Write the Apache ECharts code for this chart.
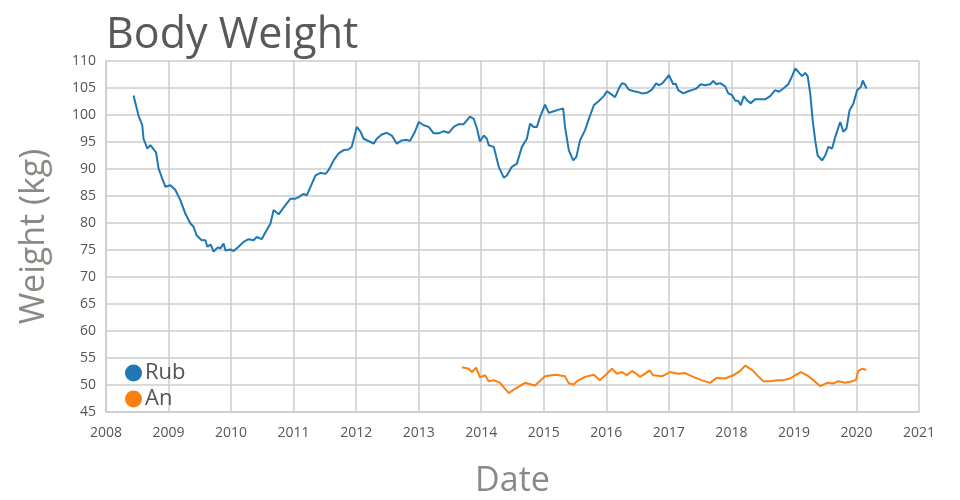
<!DOCTYPE html>
<html>
<head>
<meta charset="utf-8">
<script src="https://cdn.jsdelivr.net/npm/echarts@6/dist/echarts.min.js"></script>
<style>
  html, body { margin: 0; padding: 0; background: #fff; }
  #chart { width: 960px; height: 500px; }
</style>
</head>
<body>
<div id="chart"></div>
<script>
// 年份刻度
const yearTicks = [2008, 2009, 2010, 2011, 2012, 2013, 2014, 2015, 2016, 2017, 2018, 2019, 2020, 2021]

// Rub: [decimal year, kg]
const rubData = [
  [2008.44, 103.6], [2008.52, 99.9], [2008.58, 98.1], [2008.60, 95.6], [2008.66, 93.8],
  [2008.71, 94.4], [2008.80, 93.1], [2008.84, 90.1], [2008.90, 88.2], [2008.95, 86.7],
  [2009.03, 87.0], [2009.11, 86.1], [2009.19, 84.2], [2009.27, 81.7], [2009.35, 79.9],
  [2009.40, 79.3], [2009.45, 77.7], [2009.53, 76.8], [2009.59, 76.8], [2009.62, 75.6],
  [2009.64, 75.3], [2009.67, 76.0], [2009.69, 75.6], [2009.72, 74.7], [2009.75, 74.9],
  [2009.79, 75.5], [2009.83, 75.3], [2009.88, 76.2], [2009.91, 74.9], [2009.99, 75.1],
  [2010.04, 74.8], [2010.12, 75.6], [2010.20, 76.5], [2010.28, 77.0], [2010.36, 76.8],
  [2010.41, 77.4], [2010.49, 77.0], [2010.55, 78.3], [2010.63, 79.9], [2010.68, 82.4],
  [2010.76, 81.6], [2010.81, 82.4], [2010.87, 83.3], [2010.95, 84.5], [2011.03, 84.5],
  [2011.08, 84.8], [2011.16, 85.4], [2011.21, 85.1], [2011.27, 86.7], [2011.35, 88.8],
  [2011.43, 89.3], [2011.51, 89.1], [2011.56, 89.8], [2011.64, 91.6], [2011.72, 92.9],
  [2011.80, 93.5], [2011.88, 93.6], [2011.93, 94.1], [2012.01, 97.8], [2012.07, 96.9],
  [2012.12, 95.6], [2012.23, 95.0], [2012.28, 94.7], [2012.33, 95.6], [2012.41, 96.4],
  [2012.49, 96.7], [2012.57, 96.2], [2012.65, 94.7], [2012.73, 95.3], [2012.81, 95.4],
  [2012.86, 95.2], [2012.94, 96.9], [2013.00, 98.7], [2013.08, 98.1], [2013.16, 97.8],
  [2013.24, 96.6], [2013.32, 96.6], [2013.40, 97.0], [2013.48, 96.7], [2013.56, 97.8],
  [2013.64, 98.3], [2013.72, 98.3], [2013.77, 99.0], [2013.82, 99.7], [2013.88, 99.3],
  [2013.93, 97.6], [2013.98, 95.1], [2014.04, 96.2], [2014.09, 95.6], [2014.12, 94.4],
  [2014.20, 94.1], [2014.22, 94.4], [2014.28, 90.4], [2014.36, 88.4], [2014.41, 88.8],
  [2014.49, 90.4], [2014.57, 91.0], [2014.65, 94.1], [2014.73, 95.6], [2014.78, 98.4],
  [2014.84, 97.8], [2014.89, 97.8], [2014.94, 99.6], [2015.02, 101.9], [2015.08, 100.4],
  [2015.16, 100.7], [2015.24, 101.0], [2015.31, 101.2], [2015.34, 97.8], [2015.40, 93.5],
  [2015.43, 93.8], [2015.47, 91.6], [2015.52, 92.2], [2015.58, 95.3], [2015.66, 97.2],
  [2015.74, 99.9], [2015.80, 101.8], [2015.88, 102.6], [2015.96, 103.5], [2016.01, 104.4],
  [2016.06, 104.0], [2016.14, 103.3], [2016.20, 104.9], [2016.25, 105.9], [2016.30, 105.7],
  [2016.36, 104.7], [2016.44, 104.4], [2016.49, 104.3], [2016.57, 104.0], [2016.65, 104.1],
  [2016.73, 104.7], [2016.80, 105.9], [2016.84, 105.5], [2016.89, 105.8], [2016.95, 106.6],
  [2017.00, 107.4], [2017.07, 105.7], [2017.11, 105.8], [2017.15, 104.6], [2017.23, 104.0],
  [2017.31, 104.4], [2017.39, 104.7], [2017.44, 104.9], [2017.51, 105.7], [2017.58, 105.5],
  [2017.66, 105.7], [2017.71, 106.3], [2017.76, 105.7], [2017.82, 105.9], [2017.90, 105.3],
  [2017.95, 104.0], [2018.01, 103.7], [2018.06, 102.7], [2018.11, 102.6], [2018.15, 101.8],
  [2018.20, 103.5], [2018.25, 102.7], [2018.31, 102.2], [2018.38, 102.9], [2018.46, 102.9],
  [2018.54, 102.9], [2018.62, 103.5], [2018.70, 104.6], [2018.76, 104.3], [2018.83, 104.9],
  [2018.91, 105.7], [2018.97, 107.2], [2019.02, 108.6], [2019.07, 108.0], [2019.13, 107.2],
  [2019.18, 107.8], [2019.22, 107.2], [2019.26, 104.0], [2019.30, 99.0], [2019.34, 95.3],
  [2019.38, 92.5], [2019.45, 91.6], [2019.50, 92.5], [2019.55, 94.1], [2019.61, 93.8],
  [2019.66, 95.9], [2019.74, 98.7], [2019.79, 96.9], [2019.84, 97.5], [2019.89, 100.9],
  [2019.95, 102.1], [2020.01, 104.6], [2020.07, 105.2], [2020.10, 106.4], [2020.16, 104.9]
]

// An: [decimal year, kg]
const anData = [
  [2013.69, 53.3], [2013.80, 53.0], [2013.85, 52.4], [2013.92, 53.2], [2013.98, 51.4],
  [2014.06, 51.8], [2014.12, 50.7], [2014.20, 50.9], [2014.30, 50.4], [2014.44, 48.5],
  [2014.54, 49.3], [2014.70, 50.4], [2014.86, 49.9], [2015.02, 51.6], [2015.18, 51.9],
  [2015.34, 51.6], [2015.40, 50.3], [2015.48, 50.1], [2015.53, 50.7], [2015.66, 51.5],
  [2015.80, 51.9], [2015.90, 50.9], [2016.01, 52.1], [2016.09, 53.0], [2016.17, 52.1],
  [2016.25, 52.4], [2016.33, 51.8], [2016.41, 52.6], [2016.49, 52.0], [2016.54, 51.5],
  [2016.62, 52.1], [2016.69, 52.7], [2016.75, 51.8], [2016.89, 51.6], [2017.02, 52.4],
  [2017.15, 52.1], [2017.26, 52.2], [2017.39, 51.5], [2017.52, 50.9], [2017.66, 50.4],
  [2017.76, 51.3], [2017.90, 51.2], [2018.03, 51.8], [2018.14, 52.6], [2018.22, 53.6],
  [2018.33, 52.8], [2018.43, 51.6], [2018.51, 50.7], [2018.62, 50.7], [2018.73, 50.9],
  [2018.83, 50.9], [2018.94, 51.2], [2019.02, 51.8], [2019.11, 52.4], [2019.21, 51.8],
  [2019.31, 50.9], [2019.42, 49.8], [2019.53, 50.4], [2019.63, 50.3], [2019.71, 50.7],
  [2019.82, 50.4], [2019.90, 50.6], [2019.99, 50.9], [2020.03, 52.6], [2020.09, 53.0],
  [2020.16, 52.8]
]

const seriesNames = ['Rub', 'An']
const seriesColors = ['#1f77b4', '#ff7f0e']

const gridColor = '#cccccc'
const fontFamily = '"Open Sans", "Noto Sans", sans-serif'

const chart = echarts.init(document.getElementById('chart'))
chart.setOption({
  animation: false,
  textStyle: { fontFamily: fontFamily },
  title: {
    text: 'Body Weight',
    left: 101,
    top: 9,
    textStyle: { fontSize: 43, fontWeight: 'normal', color: '#5c5856', fontFamily: fontFamily }
  },
  legend: {
    orient: 'vertical',
    left: 120,
    top: 357,
    icon: 'circle',
    itemWidth: 17,
    itemHeight: 17,
    itemGap: 4,
    data: seriesNames,
    textStyle: { fontSize: 22, color: '#555', padding: [0, 0, 0, -2] }
  },
  grid: { left: 106, right: 41, top: 61, bottom: 88, outerBoundsMode: 'none' },
  xAxis: {
    type: 'value',
    min: yearTicks[0],
    max: yearTicks[yearTicks.length - 1],
    interval: 1,
    name: 'Date',
    nameLocation: 'middle',
    nameGap: 52,
    nameTextStyle: { fontSize: 34, color: '#8c8985' },
    axisLine: { show: true, lineStyle: { color: gridColor, width: 1.5 } },
    axisTick: { show: false },
    axisLabel: { fontSize: 14, color: '#555', margin: 14, formatter: v => String(v) },
    splitLine: { show: true, lineStyle: { color: gridColor, width: 1.5 } }
  },
  yAxis: {
    type: 'value',
    min: 45,
    max: 110,
    interval: 5,
    name: 'Weight (kg)',
    nameLocation: 'middle',
    nameGap: 55,
    nameTextStyle: { fontSize: 34, color: '#8c8985' },
    axisLine: { show: true, lineStyle: { color: gridColor, width: 1.5 } },
    axisTick: { show: false },
    axisLabel: { fontSize: 14, color: '#555', margin: 10 },
    splitLine: { show: true, lineStyle: { color: gridColor, width: 1.5 } }
  },
  series: [
    {
      name: seriesNames[0],
      type: 'line',
      data: rubData,
      showSymbol: false,
      color: seriesColors[0],
      lineStyle: { width: 2 }
    },
    {
      name: seriesNames[1],
      type: 'line',
      data: anData,
      showSymbol: false,
      color: seriesColors[1],
      lineStyle: { width: 2 }
    }
  ]
})
</script>
</body>
</html>
